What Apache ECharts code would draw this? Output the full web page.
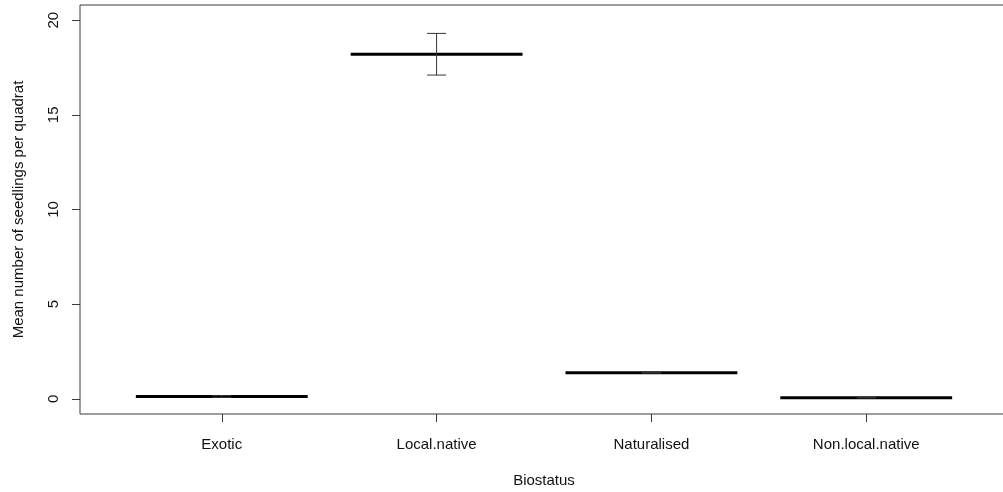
<!DOCTYPE html>
<html>
<head>
<meta charset="utf-8">
<script src="https://cdn.jsdelivr.net/npm/echarts@6/dist/echarts.min.js"></script>
<style>
html,body{margin:0;padding:0;background:#fff;}
#chart{width:1003px;height:492px;}
</style>
</head>
<body>
<div id="chart"></div>
<script>
const categories = ["Exotic", "Local.native", "Naturalised", "Non.local.native"];
const means = [0.12, 18.2, 1.38, 0.06];
const lowerErr = [0.07, 17.1, 1.36, 0.05];
const upperErr = [0.17, 19.3, 1.40, 0.07];
const yTicks = [0, 5, 10, 15, 20];
const xTicks = [1, 2, 3, 4];

const data = categories.map((c, i) => [i + 1, means[i], lowerErr[i], upperErr[i]]);

const chart = echarts.init(document.getElementById('chart'), null, {renderer: 'canvas'});
const font = 'Liberation Sans, Arial, Helvetica, sans-serif';

chart.setOption({
  animation: false,
  backgroundColor: '#ffffff',
  grid: {
    left: 80, top: 5, width: 928, height: 409,
    containLabel: false,
    outerBoundsMode: 'none',
    show: true, borderColor: '#3a3a3a', borderWidth: 1, backgroundColor: 'transparent'
  },
  xAxis: {
    type: 'value',
    min: 0.34, max: 4.66,
    name: 'Biostatus',
    nameLocation: 'middle',
    nameGap: 59,
    nameTextStyle: {fontFamily: font, fontSize: 15, color: '#111111'},
    axisLine: {show: false, onZero: false},
    splitLine: {show: false},
    axisTick: {show: true, inside: false, length: 8, customValues: xTicks, lineStyle: {color: '#3a3a3a'}},
    axisLabel: {
      customValues: xTicks, margin: 23, fontFamily: font, fontSize: 15, color: '#111111',
      formatter: v => categories[Math.round(v) - 1] || ''
    }
  },
  yAxis: {
    type: 'value',
    min: -0.8, max: 20.8,
    name: 'Mean number of seedlings per quadrat',
    nameLocation: 'middle',
    nameRotate: 90,
    nameGap: 54,
    nameTextStyle: {fontFamily: font, fontSize: 15, color: '#111111'},
    axisLine: {show: false, onZero: false},
    splitLine: {show: false},
    axisTick: {show: true, inside: false, length: 8, customValues: yTicks, lineStyle: {color: '#3a3a3a'}},
    axisLabel: {
      customValues: yTicks, rotate: 90, margin: 19, fontFamily: font, fontSize: 15, color: '#111111'
    }
  },
  series: [{
    type: 'custom',
    data: data,
    clip: false,
    renderItem: function (params, api) {
      const x = api.value(0), m = api.value(1), lo = api.value(2), hi = api.value(3);
      const a = api.coord([x - 0.4, m]);
      const b = api.coord([x + 0.4, m]);
      const top = api.coord([x, hi]);
      const bot = api.coord([x, lo]);
      const cap = 9.5;
      const errStyle = {stroke: '#333333', lineWidth: 1};
      return {
        type: 'group',
        children: [
          {type: 'line', shape: {x1: a[0], y1: a[1], x2: b[0], y2: b[1]}, style: {stroke: '#000000', lineWidth: 3}},
          {type: 'line', shape: {x1: top[0], y1: top[1], x2: bot[0], y2: bot[1]}, style: errStyle},
          {type: 'line', shape: {x1: top[0] - cap, y1: top[1], x2: top[0] + cap, y2: top[1]}, style: errStyle},
          {type: 'line', shape: {x1: bot[0] - cap, y1: bot[1], x2: bot[0] + cap, y2: bot[1]}, style: errStyle}
        ]
      };
    }
  }]
});
</script>
</body>
</html>
